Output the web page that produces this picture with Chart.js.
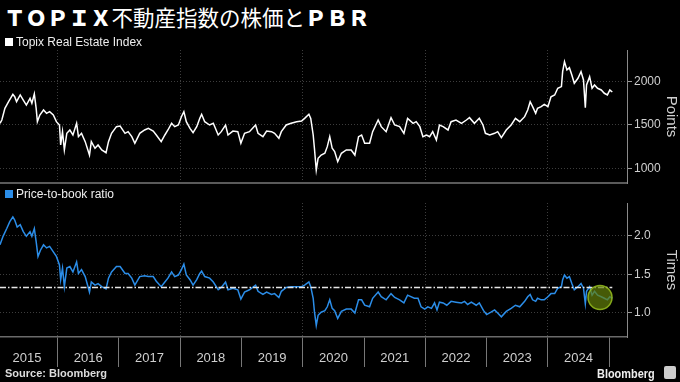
<!DOCTYPE html>
<html>
<head>
<meta charset="utf-8">
<script src="https://cdn.jsdelivr.net/npm/chart.js@4.4.1/dist/chart.umd.min.js"></script>
<style>
  html, body { margin: 0; padding: 0; background: #000; }
  body { width: 680px; height: 382px; position: relative; overflow: hidden; color: #fff;
         font-family: "Liberation Sans", Arial, sans-serif; }
  canvas { position: absolute; left: 0; }
  #topChart { top: 45px; }
  #bottomChart { top: 195px; }
  #title { position: absolute; left: 4px; top: 6px; font-size: 21.5px; line-height: 1; white-space: nowrap;
           font-family: "Noto Sans CJK JP", sans-serif; }
  #title .lat { font-weight: 900; }
  #title .cjk { font-weight: 400; }
  .legend { position: absolute; left: 5px; font-size: 12px; color: #eee; white-space: nowrap; }
  .legend i { display: inline-block; width: 8px; height: 8px; margin-right: 3px; }
  #legendTop { top: 35px; }
  #legendBottom { top: 187px; }
  #source { position: absolute; left: 5px; top: 367px; font-size: 11px; font-weight: bold; color: #ddd; }
  #brand { position: absolute; left: 597px; top: 366px; font-size: 13px; font-weight: bold; color: #eee;
           transform: scaleX(0.84); transform-origin: left center; }
  #brandIcon { position: absolute; left: 664px; top: 366px; width: 12px; height: 13px; background: #ccc; border-radius: 2px; }
</style>
</head>
<body>
<canvas id="topChart" width="680" height="140"></canvas>
<canvas id="bottomChart" width="680" height="187"></canvas>

<div id="title"><span class="lat">ＴＯＰＩＸ</span><span class="cjk">不動産指数の株価と</span><span class="lat">ＰＢＲ</span></div>
<div class="legend" id="legendTop"><i style="background:#fff"></i>Topix Real Estate Index</div>
<div class="legend" id="legendBottom"><i style="background:#2b8de8"></i>Price-to-book ratio</div>
<div id="source">Source: Bloomberg</div>
<div id="brand">Bloomberg</div>
<div id="brandIcon"></div>

<script>
// Topix Real Estate Index (points), dates as decimal years
const indexDates = [
  2015.06, 2015.09, 2015.14, 2015.20, 2015.27, 2015.30, 2015.33, 2015.39, 2015.44, 2015.49,
  2015.55, 2015.58, 2015.62, 2015.65, 2015.67, 2015.71, 2015.77, 2015.82, 2015.87, 2015.93,
  2015.98, 2016.03, 2016.05, 2016.08, 2016.11, 2016.15, 2016.20, 2016.25, 2016.31, 2016.34,
  2016.39, 2016.45, 2016.52, 2016.55, 2016.61, 2016.66, 2016.72, 2016.79, 2016.83, 2016.88,
  2016.96, 2017.02, 2017.10, 2017.15, 2017.21, 2017.26, 2017.34, 2017.42, 2017.48, 2017.56,
  2017.61, 2017.69, 2017.75, 2017.80, 2017.86, 2017.91, 2017.97, 2018.02, 2018.06, 2018.10,
  2018.16, 2018.21, 2018.27, 2018.32, 2018.35, 2018.40, 2018.48, 2018.54, 2018.62, 2018.67,
  2018.74, 2018.78, 2018.86, 2018.94, 2018.99, 2019.05, 2019.13, 2019.23, 2019.27, 2019.35,
  2019.41, 2019.49, 2019.54, 2019.61, 2019.65, 2019.73, 2019.81, 2019.90, 2019.98, 2020.03,
  2020.10, 2020.13, 2020.17, 2020.19, 2020.22, 2020.25, 2020.30, 2020.36, 2020.40, 2020.44,
  2020.48, 2020.52, 2020.57, 2020.63, 2020.71, 2020.79, 2020.85, 2020.91, 2020.96, 2021.01,
  2021.09, 2021.14, 2021.23, 2021.28, 2021.36, 2021.44, 2021.50, 2021.58, 2021.65, 2021.71,
  2021.80, 2021.85, 2021.91, 2021.96, 2022.02, 2022.07, 2022.12, 2022.18, 2022.23, 2022.29,
  2022.37, 2022.42, 2022.50, 2022.59, 2022.67, 2022.72, 2022.80, 2022.88, 2022.94, 2022.98,
  2023.05, 2023.13, 2023.18, 2023.24, 2023.32, 2023.40, 2023.47, 2023.54, 2023.62, 2023.67,
  2023.71, 2023.75, 2023.80, 2023.83, 2023.89, 2023.94, 2024.00, 2024.05, 2024.11, 2024.16,
  2024.22, 2024.24, 2024.27, 2024.31, 2024.35, 2024.39, 2024.43, 2024.49, 2024.54, 2024.58,
  2024.61, 2024.63, 2024.68, 2024.72, 2024.76, 2024.81, 2024.87, 2024.92, 2024.97, 2025.01,
  2025.05
];
const indexValues = [
  1519, 1557, 1690, 1766, 1850, 1823, 1766, 1843, 1785, 1728,
  1805, 1748, 1854, 1690, 1538, 1614, 1671, 1633, 1652, 1614,
  1538, 1500, 1272, 1424, 1215, 1405, 1443, 1386, 1519, 1367,
  1405, 1310, 1157, 1310, 1234, 1272, 1215, 1184, 1310, 1405,
  1481, 1489, 1405, 1424, 1367, 1291, 1405, 1443, 1462, 1431,
  1386, 1310, 1386, 1443, 1519, 1481, 1500, 1595, 1652, 1538,
  1462, 1412, 1481, 1576, 1622, 1538, 1500, 1519, 1386, 1424,
  1500, 1386, 1431, 1424, 1291, 1405, 1424, 1500, 1405, 1367,
  1431, 1424, 1405, 1348, 1424, 1500, 1519, 1538, 1545, 1576,
  1622, 1576, 1386, 1234, 986, 1120, 1157, 1177, 1253, 1367,
  1234, 1196, 1081, 1177, 1215, 1215, 1157, 1367, 1386, 1291,
  1291, 1424, 1557, 1481, 1424, 1584, 1500, 1481, 1405, 1576,
  1519, 1538, 1481, 1367, 1386, 1367, 1424, 1329, 1500, 1481,
  1443, 1538, 1557, 1519, 1557, 1584, 1519, 1576, 1500, 1405,
  1386, 1405, 1424, 1355, 1443, 1500, 1576, 1538, 1595, 1671,
  1766, 1709, 1633, 1690, 1709, 1736, 1709, 1823, 1843, 1919,
  1938, 2109, 2223, 2128, 2154, 2071, 1976, 2033, 2109, 2014,
  1698, 1957, 2052, 1919, 1957, 1919, 1900, 1862, 1843, 1900,
  1877
];

// Price-to-book ratio (times)
const pbrDates = [
  2015.06, 2015.11, 2015.17, 2015.22, 2015.27, 2015.30, 2015.34, 2015.39, 2015.44, 2015.49,
  2015.55, 2015.58, 2015.62, 2015.65, 2015.68, 2015.72, 2015.77, 2015.82, 2015.87, 2015.93,
  2015.98, 2016.03, 2016.05, 2016.08, 2016.11, 2016.15, 2016.20, 2016.25, 2016.31, 2016.34,
  2016.39, 2016.45, 2016.52, 2016.55, 2016.61, 2016.66, 2016.72, 2016.79, 2016.83, 2016.88,
  2016.96, 2017.02, 2017.10, 2017.15, 2017.21, 2017.26, 2017.34, 2017.42, 2017.48, 2017.56,
  2017.61, 2017.69, 2017.75, 2017.80, 2017.86, 2017.91, 2017.97, 2018.02, 2018.06, 2018.10,
  2018.16, 2018.21, 2018.27, 2018.32, 2018.35, 2018.40, 2018.48, 2018.54, 2018.62, 2018.67,
  2018.74, 2018.78, 2018.86, 2018.94, 2018.99, 2019.05, 2019.13, 2019.23, 2019.27, 2019.35,
  2019.41, 2019.49, 2019.54, 2019.61, 2019.65, 2019.73, 2019.81, 2019.90, 2019.98, 2020.03,
  2020.10, 2020.13, 2020.17, 2020.19, 2020.22, 2020.25, 2020.30, 2020.36, 2020.40, 2020.44,
  2020.48, 2020.52, 2020.57, 2020.63, 2020.71, 2020.79, 2020.85, 2020.91, 2020.96, 2021.01,
  2021.09, 2021.14, 2021.23, 2021.28, 2021.36, 2021.44, 2021.50, 2021.58, 2021.65, 2021.71,
  2021.82, 2021.88, 2021.93, 2021.99, 2022.04, 2022.10, 2022.15, 2022.19, 2022.23, 2022.29,
  2022.35, 2022.42, 2022.50, 2022.59, 2022.64, 2022.69, 2022.75, 2022.83, 2022.88, 2022.95,
  2023.00, 2023.07, 2023.13, 2023.18, 2023.24, 2023.32, 2023.40, 2023.47, 2023.54, 2023.62,
  2023.67, 2023.71, 2023.75, 2023.80, 2023.83, 2023.89, 2023.94, 2024.00, 2024.05, 2024.11,
  2024.16, 2024.22, 2024.24, 2024.27, 2024.31, 2024.35, 2024.39, 2024.43, 2024.49, 2024.54,
  2024.58, 2024.61, 2024.63, 2024.68, 2024.72, 2024.76, 2024.81, 2024.87, 2024.92, 2024.97,
  2025.01, 2025.05
];
const pbrValues = [
  1.88, 1.99, 2.09, 2.18, 2.24, 2.20, 2.11, 2.14, 2.05, 1.99,
  2.05, 1.99, 2.09, 1.92, 1.73, 1.81, 1.88, 1.84, 1.86, 1.79,
  1.73, 1.62, 1.43, 1.58, 1.34, 1.58, 1.60, 1.53, 1.66, 1.51,
  1.56, 1.47, 1.27, 1.40, 1.36, 1.38, 1.34, 1.31, 1.45, 1.53,
  1.60, 1.60, 1.51, 1.51, 1.45, 1.36, 1.47, 1.48, 1.47, 1.47,
  1.41, 1.34, 1.40, 1.45, 1.53, 1.47, 1.49, 1.56, 1.63, 1.49,
  1.43, 1.36, 1.43, 1.51, 1.54, 1.47, 1.45, 1.40, 1.30, 1.33,
  1.40, 1.30, 1.32, 1.30, 1.18, 1.27, 1.30, 1.36, 1.28, 1.24,
  1.27, 1.24, 1.25, 1.20, 1.28, 1.33, 1.34, 1.34, 1.34, 1.36,
  1.40, 1.34, 1.19, 1.02, 0.84, 0.97, 1.01, 1.03, 1.08, 1.17,
  1.06, 1.03, 0.93, 1.02, 1.05, 1.05, 1.00, 1.17, 1.17, 1.10,
  1.08, 1.19, 1.27, 1.21, 1.17, 1.25, 1.20, 1.17, 1.13, 1.23,
  1.19, 1.19, 1.08, 1.05, 1.08, 1.06, 1.13, 1.04, 1.14, 1.13,
  1.10, 1.15, 1.14, 1.13, 1.15, 1.11, 1.14, 1.10, 1.13, 1.03,
  0.98, 1.01, 1.04, 1.00, 0.95, 1.02, 1.06, 1.10, 1.08, 1.15,
  1.21, 1.24, 1.17, 1.15, 1.19, 1.17, 1.17, 1.21, 1.25, 1.25,
  1.32, 1.34, 1.43, 1.49, 1.45, 1.47, 1.38, 1.30, 1.34, 1.38,
  1.32, 1.12, 1.28, 1.34, 1.23, 1.28, 1.23, 1.21, 1.19, 1.17,
  1.21, 1.19
];

// long-run average PBR (dash-dot line) and the highlighted latest reading
const pbrAverage = 1.33;
const highlightDates = [2024.85];
const highlightValues = [1.2];

const indexTicks = [1000, 1500, 2000];
const pbrTicks = [1.0, 1.5, 2.0];
const gridYears = [2016, 2018, 2020, 2022, 2024];
const yearLabels = ['2015', '2016', '2017', '2018', '2019', '2020', '2021', '2022', '2023', '2024'];

const X_MIN = 2015.06;
const X_MAX = 2025.29;
const GRID = '#3d3d3d';
const AXIS_TEXT = '#cfcfcf';

const toPoints = (xs, ys) => xs.map((x, i) => ({ x: x, y: ys[i] }));

// year boundaries (tick marks) plus mid-year positions (labels)
const bottomTicks = [];
yearLabels.forEach(label => {
    const yr = Number(label);
    bottomTicks.push(yr + 0.5, yr + 1);
});

const baseOptions = () => ({
    animation: false,
    responsive: false,
    devicePixelRatio: 1,
    plugins: { legend: { display: false }, tooltip: { enabled: false } },
    elements: { line: { tension: 0 }, point: { radius: 0 } }
});

const rightAxis = (min, max, tickList, title, fmt) => ({
    position: 'right',
    min: min,
    max: max,
    afterBuildTicks: s => { s.ticks = tickList.map(v => ({ value: v })); },
    afterFit: s => {
        // fixed gutter on the right, and no extra label padding above/below the plot
        s.width = 53;
        s.paddingTop = 0;
        s.paddingBottom = 0;
    },
    grid: { color: GRID, tickLength: 5, tickColor: '#9a9a9a', tickBorderDash: [] },
    border: { color: '#8a8a8a', width: 1, dash: [1, 2] },
    ticks: { color: AXIS_TEXT, font: { size: 12, family: 'Liberation Sans' }, padding: 2, callback: fmt },
    title: { display: true, text: title, color: AXIS_TEXT, font: { size: 15, family: 'Liberation Sans' }, padding: 0 }
});

// top panel: index level
const topOpts = baseOptions();
topOpts.layout = { autoPadding: false, padding: { top: 5, bottom: 2, left: 0, right: 0 } };
topOpts.scales = {
    x: {
        type: 'linear',
        min: X_MIN,
        max: X_MAX,
        afterBuildTicks: s => { s.ticks = gridYears.map(v => ({ value: v })); },
        afterFit: s => { s.height = 0; },
        ticks: { display: false },
        grid: { color: GRID, drawTicks: false },
        border: { color: '#5a5a5a', width: 2, dash: [1, 2] }
    },
    y: rightAxis(838, 2356, indexTicks, 'Points', v => String(v))
};

new Chart(document.getElementById('topChart'), {
    type: 'line',
    data: {
        datasets: [{
            data: toPoints(indexDates, indexValues),
            borderColor: '#ffffff',
            borderWidth: 1.5
        }]
    },
    options: topOpts
});

// bottom panel: price-to-book
const bottomOpts = baseOptions();
// autoPadding off, otherwise the big highlight point pushes the plot inwards
bottomOpts.layout = { autoPadding: false, padding: { top: 8, bottom: 0, left: 0, right: 0 } };
bottomOpts.scales = {
    x: {
        type: 'linear',
        min: X_MIN,
        max: X_MAX,
        afterBuildTicks: s => { s.ticks = bottomTicks.map(v => ({ value: v })); },
        afterFit: s => { s.height = 45; },
        ticks: {
            autoSkip: false,
            maxRotation: 0,
            padding: -16,
            color: AXIS_TEXT,
            font: { size: 13, family: 'Liberation Sans' },
            callback: v => (v % 1 ? String(Math.floor(v)) : '')
        },
        grid: {
            color: c => (c.tick && gridYears.includes(c.tick.value) ? GRID : 'transparent'),
            tickColor: c => (c.tick && c.tick.value % 1 === 0 ? '#777' : 'transparent'),
            tickLength: 30,
            tickBorderDash: []
        },
        border: { color: '#6a6a6a', width: 1.5, dash: [1, 2] }
    },
    y: rightAxis(0.69, 2.42, pbrTicks, 'Times', v => v.toFixed(1))
};

new Chart(document.getElementById('bottomChart'), {
    type: 'line',
    data: {
        datasets: [
            {
                type: 'scatter',
                data: toPoints(highlightDates, highlightValues),
                pointRadius: 12,
                pointBackgroundColor: 'rgba(100, 128, 10, 0.7)',
                pointBorderColor: 'rgba(150, 190, 30, 0.85)',
                pointBorderWidth: 1.5,
                order: 0
            },
            {
                data: [{ x: pbrDates[0], y: pbrAverage }, { x: pbrDates[pbrDates.length - 1], y: pbrAverage }],
                borderColor: '#e6e6e6',
                borderWidth: 1.5,
                borderDash: [6, 2, 1.5, 2],
                order: 1
            },
            {
                data: toPoints(pbrDates, pbrValues),
                borderColor: '#2b8de8',
                borderWidth: 1.5,
                order: 2
            }
        ]
    },
    options: bottomOpts
});
</script>
</body>
</html>
